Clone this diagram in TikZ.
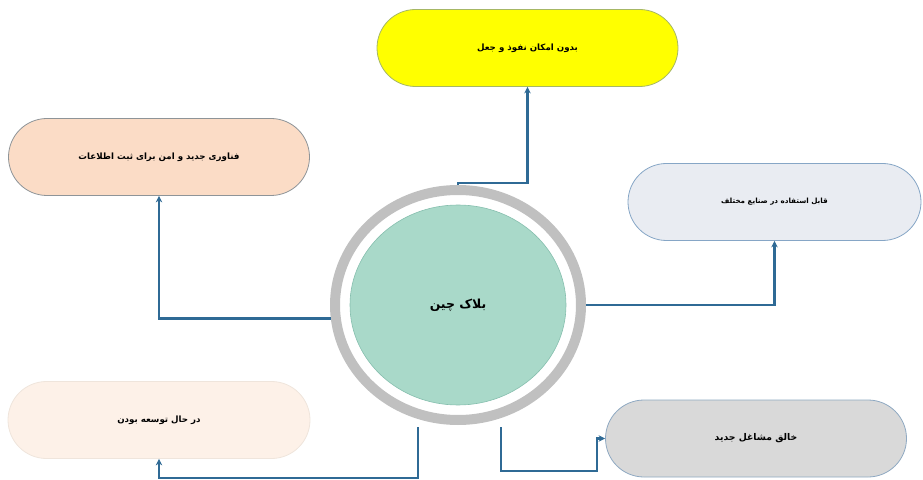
\documentclass[tikz,border=0pt]{standalone}
\usepackage{fontspec}
\TeXXeTstate=1
\newfontfamily\arabicfont[Script=Arabic]{DejaVu Sans}
\usetikzlibrary{shapes.geometric,arrows.meta}
\definecolor{conn}{HTML}{2F6A95}
\definecolor{ringgray}{HTML}{C0C0C0}
\definecolor{innerfill}{HTML}{A9D9C9}
\definecolor{inneredge}{HTML}{86BFAE}
\definecolor{topfill}{HTML}{FFFF00}
\definecolor{topedge}{HTML}{A6B765}
\definecolor{leftfill}{HTML}{FBDCC6}
\definecolor{leftedge}{HTML}{8E9498}
\definecolor{rightfill}{HTML}{E9ECF2}
\definecolor{rightedge}{HTML}{86A6C6}
\definecolor{blfill}{HTML}{FDF1E8}
\definecolor{bledge}{HTML}{EFE5DC}
\definecolor{brfill}{HTML}{D9D9D9}
\definecolor{bredge}{HTML}{8FA9C2}
\tikzset{
  pill/.style={draw, line width=0.8bp, rectangle, rounded corners=38.5bp,
    minimum width=301bp, minimum height=77bp, inner sep=0pt,
    font=\arabicfont\bfseries\fontsize{8.7}{10}\selectfont},
  conn/.style={draw=conn, line width=2.6bp, -{Stealth[length=6.5bp,width=6.5bp]}}
}
\begin{document}
\begin{tikzpicture}[x=1bp,y=-1bp]
\useasboundingbox (0,0) rectangle (923,480);
% ring and center
\node[ellipse, draw=ringgray, line width=10bp, minimum width=246bp, minimum height=230bp, inner sep=0pt] (ring) at (458,305) {};
\node[ellipse, draw=inneredge, line width=0.6bp, fill=innerfill, minimum width=216bp, minimum height=200bp, inner sep=0pt,
  font=\arabicfont\bfseries\fontsize{12.5}{14}\selectfont] (core) at (458,305) {\beginR بلاک چین\endR};
% boxes
\node[pill, fill=topfill, draw=topedge] (top) at (527.5,48) {\beginR بدون امکان نفوذ و جعل\endR};
\node[pill, fill=leftfill, draw=leftedge] (left) at (159,157) {\beginR فناوری جدید و امن برای ثبت اطلاعات\endR};
\node[pill, fill=rightfill, draw=rightedge, minimum width=293bp,
  font=\arabicfont\bfseries\fontsize{7.2}{9}\selectfont] (right) at (774.5,202) {\beginR قابل استفاده در صنایع مختلف\endR};
\node[pill, fill=blfill, draw=bledge, minimum width=302bp] (bl) at (159,420) {\beginR در حال توسعه بودن\endR};
\node[pill, fill=brfill, draw=bredge, minimum width=301bp,
  font=\arabicfont\bfseries\fontsize{9.3}{11}\selectfont] (br) at (756,438.5) {\beginR خالق مشاغل جدید\endR};
% connectors
\draw[conn] (ring.north) -- ++(0,-2) -| (top.south);
\draw[conn] (ring.186) -| (left.south);
\draw[conn] (ring.east) -| (right.south);
\draw[conn] ([xshift=-40bp,yshift=-2bp]ring.south) -- ++(0,51) -| (bl.south);
\draw[conn] ([xshift=43bp,yshift=-2bp]ring.south) -- ++(0,44) -| ([xshift=-8bp]br.west) -- (br.west);
\end{tikzpicture}
\end{document}
